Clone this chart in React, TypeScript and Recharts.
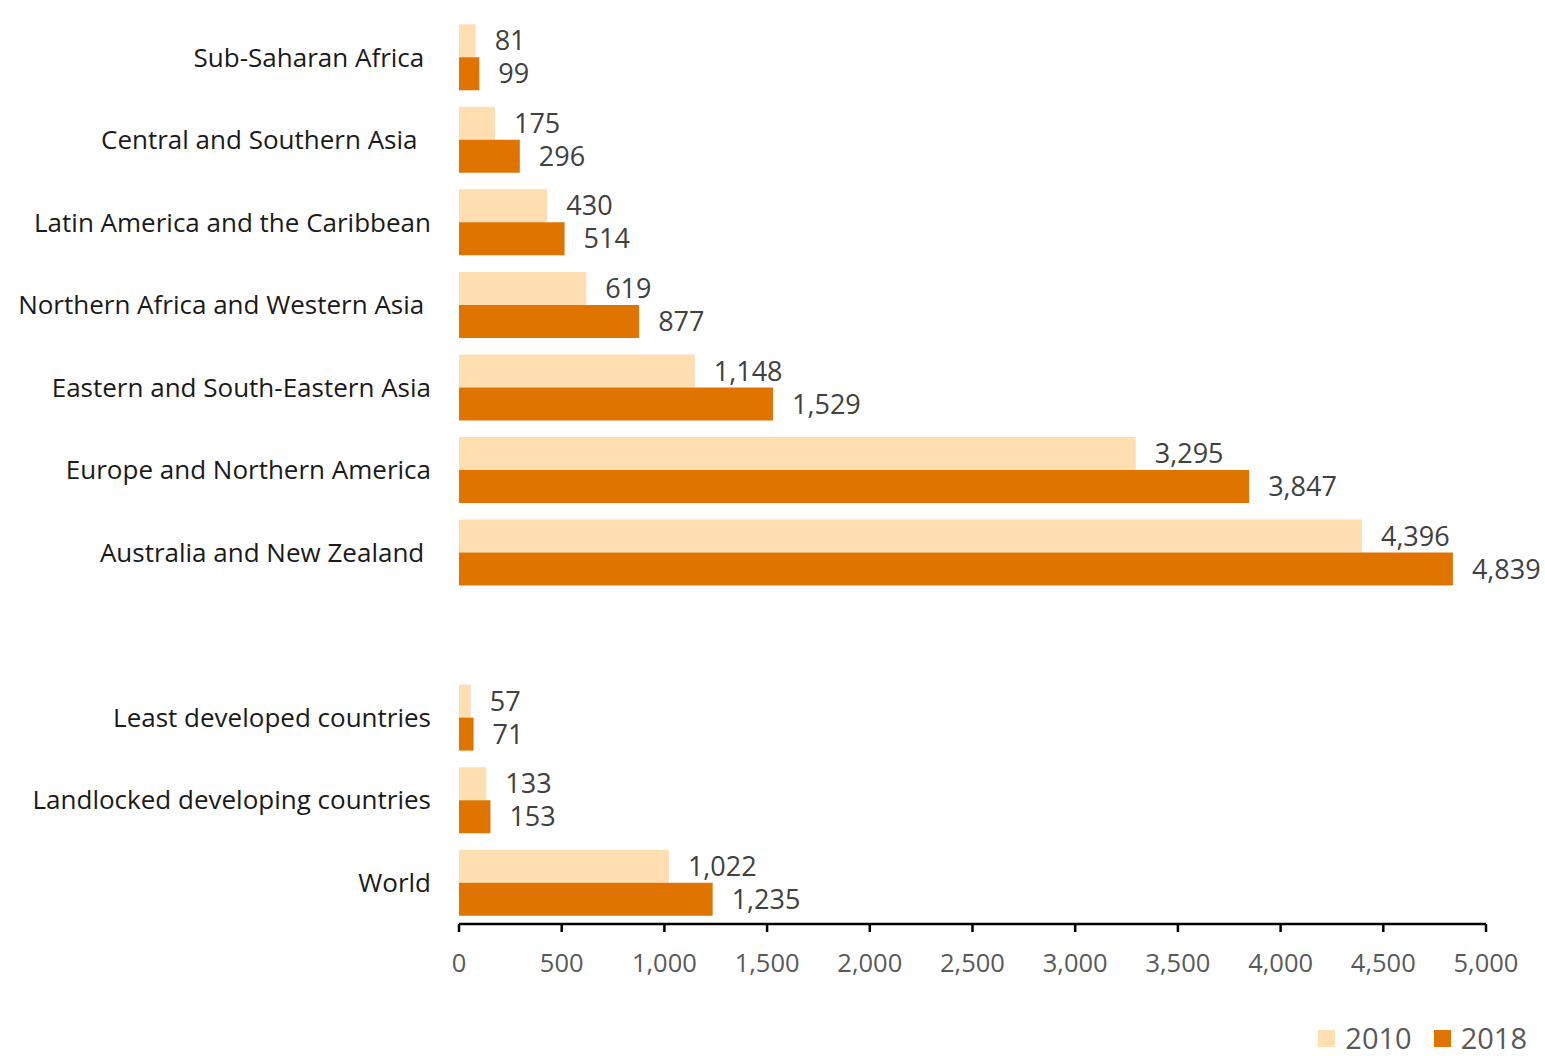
import React from 'react';
import { BarChart, Bar, XAxis, YAxis, LabelList, Legend } from 'recharts';

const categories = [
  'Sub-Saharan Africa\u00a0',
  'Central and Southern Asia\u00a0\u00a0',
  'Latin America and the Caribbean',
  'Northern Africa and Western Asia\u00a0',
  'Eastern and South-Eastern Asia',
  'Europe and Northern America',
  'Australia and New Zealand\u00a0',
  '',
  'Least developed countries',
  'Landlocked developing countries',
  'World',
];
const values2010: (number | null)[] = [81, 175, 430, 619, 1148, 3295, 4396, null, 57, 133, 1022];
const values2018: (number | null)[] = [99, 296, 514, 877, 1529, 3847, 4839, null, 71, 153, 1235];
const xTicks = [0, 500, 1000, 1500, 2000, 2500, 3000, 3500, 4000, 4500, 5000];
const seriesNames = ['2010', '2018'];
const colors = ['#FFDEB1', '#E07400'];

const data = categories.map((c, i) => ({ name: c, v2010: values2010[i], v2018: values2018[i] }));

const FONT = '"Open Sans", "Noto Sans", sans-serif';
const fmt = (v: any) => (v == null || v === '' ? '' : Number(v).toLocaleString('en-US'));

const LegendContent = () => (
  <div style={{ display: 'flex', justifyContent: 'flex-end', alignItems: 'center', fontFamily: FONT, fontSize: 29, lineHeight: '32px', height: 36, color: '#595959' }}>
    {seriesNames.map((n, i) => (
      <div key={n} style={{ display: 'flex', alignItems: 'center', marginLeft: i === 0 ? 0 : 22 }}>
        <div style={{ width: 17, height: 17, background: colors[i], marginRight: 10 }} />
        <span>{n}</span>
      </div>
    ))}
  </div>
);

export default function App() {
  return (
    <div style={{ position: 'absolute', left: 0, top: 0, width: 1545, height: 1056, background: '#fff', overflow: 'hidden' }}>
      <BarChart
        width={1545}
        height={1056}
        data={data}
        layout="vertical"
        margin={{ top: 16, right: 59, bottom: 0, left: 0 }}
        barCategoryGap="10%"
        barGap={0}
      >
        <XAxis
          type="number"
          domain={[0, 5000]}
          ticks={xTicks}
          tickFormatter={fmt}
          axisLine={{ stroke: '#000', strokeWidth: 2.5 }}
          tickLine={{ stroke: '#000', strokeWidth: 2.5 }}
          tickSize={8}
          tickMargin={22}
          height={96}
          tick={{ fill: '#595959', fontSize: 25.5, fontFamily: FONT }}
          interval={0}
        />
        <YAxis
          type="category"
          dataKey="name"
          width={459}
          axisLine={false}
          tickLine={false}
          tickMargin={22}
          interval={0}
          tick={{ fill: '#1a1a1a', fontSize: 26, fontFamily: FONT }}
        />
        <Legend
          verticalAlign="bottom"
          align="right"
          content={<LegendContent />}
          wrapperStyle={{ right: 18, bottom: 0, height: 36, width: 'auto' }}
        />
        <Bar dataKey="v2010" name={seriesNames[0]} fill={colors[0]} isAnimationActive={false}>
          <LabelList dataKey="v2010" position="right" offset={19} formatter={fmt} fill="#404040" fontSize={27} fontFamily={FONT} />
        </Bar>
        <Bar dataKey="v2018" name={seriesNames[1]} fill={colors[1]} isAnimationActive={false}>
          <LabelList dataKey="v2018" position="right" offset={19} formatter={fmt} fill="#404040" fontSize={27} fontFamily={FONT} />
        </Bar>
      </BarChart>
    </div>
  );
}
